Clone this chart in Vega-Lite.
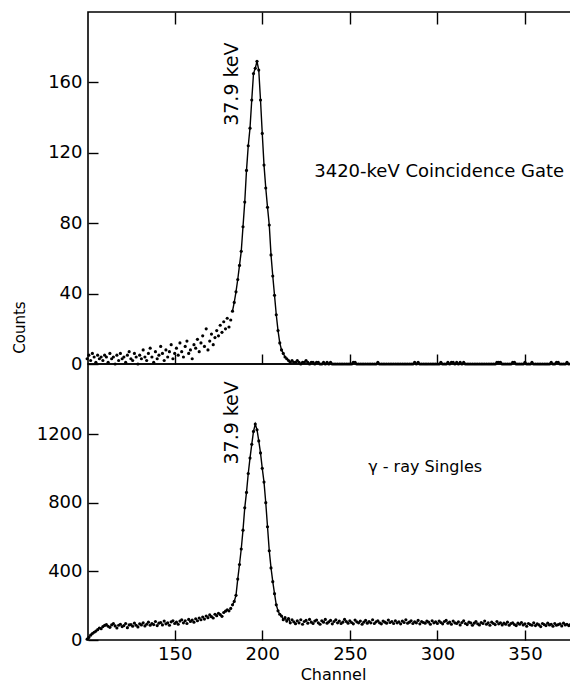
{
"$schema":"https://vega.github.io/schema/vega-lite/v6.json",
"padding":{"left":11,"top":10,"right":0,"bottom":0},
"background":"white",
"spacing":0,
"bounds":"flush",
"config":{
 "font":"DejaVu Sans",
 "view":{"stroke":"black","strokeWidth":1.6},
 "axis":{"domain":false,"grid":false,"tickColor":"black","tickWidth":1.4,"labelColor":"black","labelFont":"DejaVu Sans","labelFontSize":18,"titleColor":"black","titleFont":"DejaVu Sans","titleFontWeight":"normal"}
},
"datasets":{
"coinc":[{"c":100,"n":3},{"c":101,"n":5},{"c":102,"n":2},{"c":103,"n":6},{"c":104,"n":4},{"c":105,"n":1},{"c":106,"n":5},{"c":107,"n":3},{"c":108,"n":4},{"c":109,"n":2},{"c":110,"n":5},{"c":111,"n":4},{"c":112,"n":1},{"c":113,"n":6},{"c":114,"n":3},{"c":115,"n":4},{"c":116,"n":0},{"c":117,"n":5},{"c":118,"n":2},{"c":119,"n":6},{"c":120,"n":3},{"c":121,"n":4},{"c":122,"n":1},{"c":123,"n":5},{"c":124,"n":7},{"c":125,"n":3},{"c":126,"n":2},{"c":127,"n":6},{"c":128,"n":4},{"c":129,"n":0},{"c":130,"n":5},{"c":131,"n":3},{"c":132,"n":8},{"c":133,"n":4},{"c":134,"n":2},{"c":135,"n":6},{"c":136,"n":9},{"c":137,"n":4},{"c":138,"n":1},{"c":139,"n":7},{"c":140,"n":3},{"c":141,"n":5},{"c":142,"n":10},{"c":143,"n":6},{"c":144,"n":2},{"c":145,"n":8},{"c":146,"n":4},{"c":147,"n":7},{"c":148,"n":11},{"c":149,"n":3},{"c":150,"n":6},{"c":151,"n":9},{"c":152,"n":5},{"c":153,"n":12},{"c":154,"n":7},{"c":155,"n":4},{"c":156,"n":10},{"c":157,"n":13},{"c":158,"n":6},{"c":159,"n":8},{"c":160,"n":3},{"c":161,"n":11},{"c":162,"n":9},{"c":163,"n":14},{"c":164,"n":7},{"c":165,"n":12},{"c":166,"n":16},{"c":167,"n":10},{"c":168,"n":20},{"c":169,"n":8},{"c":170,"n":13},{"c":171,"n":17},{"c":172,"n":11},{"c":173,"n":15},{"c":174,"n":19},{"c":175,"n":16},{"c":176,"n":22},{"c":177,"n":18},{"c":178,"n":24},{"c":179,"n":20},{"c":180,"n":26},{"c":181,"n":21},{"c":182,"n":25},{"c":183,"n":30},{"c":184,"n":35},{"c":185,"n":41},{"c":186,"n":48},{"c":187,"n":56},{"c":188,"n":64},{"c":189,"n":78},{"c":190,"n":92},{"c":191,"n":110},{"c":192,"n":124},{"c":193,"n":134},{"c":194,"n":150},{"c":195,"n":165},{"c":196,"n":168},{"c":197,"n":172},{"c":198,"n":167},{"c":199,"n":150},{"c":200,"n":131},{"c":201,"n":113},{"c":202,"n":100},{"c":203,"n":89},{"c":204,"n":79},{"c":205,"n":62},{"c":206,"n":50},{"c":207,"n":39},{"c":208,"n":28},{"c":209,"n":19},{"c":210,"n":12},{"c":211,"n":8},{"c":212,"n":6},{"c":213,"n":4},{"c":214,"n":3},{"c":215,"n":2},{"c":216,"n":1},{"c":217,"n":2},{"c":218,"n":1},{"c":219,"n":1},{"c":220,"n":2},{"c":221,"n":1},{"c":222,"n":0},{"c":223,"n":1},{"c":224,"n":1},{"c":225,"n":2},{"c":226,"n":1},{"c":227,"n":0},{"c":228,"n":1},{"c":229,"n":1},{"c":230,"n":0},{"c":231,"n":1},{"c":232,"n":1},{"c":233,"n":0},{"c":234,"n":0},{"c":235,"n":1},{"c":236,"n":0},{"c":237,"n":1},{"c":238,"n":0},{"c":239,"n":1},{"c":240,"n":0},{"c":241,"n":0},{"c":242,"n":0},{"c":243,"n":0},{"c":244,"n":0},{"c":245,"n":0},{"c":246,"n":0},{"c":247,"n":0},{"c":248,"n":0},{"c":249,"n":0},{"c":250,"n":0},{"c":251,"n":0},{"c":252,"n":1},{"c":253,"n":1},{"c":254,"n":0},{"c":255,"n":0},{"c":256,"n":0},{"c":257,"n":0},{"c":258,"n":0},{"c":259,"n":0},{"c":260,"n":0},{"c":261,"n":0},{"c":262,"n":0},{"c":263,"n":0},{"c":264,"n":0},{"c":265,"n":0},{"c":266,"n":1},{"c":267,"n":0},{"c":268,"n":0},{"c":269,"n":0},{"c":270,"n":0},{"c":271,"n":0},{"c":272,"n":0},{"c":273,"n":0},{"c":274,"n":0},{"c":275,"n":0},{"c":276,"n":0},{"c":277,"n":0},{"c":278,"n":0},{"c":279,"n":0},{"c":280,"n":0},{"c":281,"n":0},{"c":282,"n":0},{"c":283,"n":0},{"c":284,"n":0},{"c":285,"n":0},{"c":286,"n":0},{"c":287,"n":1},{"c":288,"n":0},{"c":289,"n":1},{"c":290,"n":0},{"c":291,"n":0},{"c":292,"n":0},{"c":293,"n":0},{"c":294,"n":0},{"c":295,"n":0},{"c":296,"n":0},{"c":297,"n":0},{"c":298,"n":0},{"c":299,"n":0},{"c":300,"n":0},{"c":301,"n":0},{"c":302,"n":1},{"c":303,"n":0},{"c":304,"n":0},{"c":305,"n":0},{"c":306,"n":1},{"c":307,"n":0},{"c":308,"n":1},{"c":309,"n":1},{"c":310,"n":0},{"c":311,"n":1},{"c":312,"n":0},{"c":313,"n":1},{"c":314,"n":0},{"c":315,"n":1},{"c":316,"n":0},{"c":317,"n":0},{"c":318,"n":0},{"c":319,"n":0},{"c":320,"n":0},{"c":321,"n":0},{"c":322,"n":0},{"c":323,"n":0},{"c":324,"n":0},{"c":325,"n":0},{"c":326,"n":0},{"c":327,"n":0},{"c":328,"n":0},{"c":329,"n":0},{"c":330,"n":0},{"c":331,"n":0},{"c":332,"n":0},{"c":333,"n":0},{"c":334,"n":1},{"c":335,"n":1},{"c":336,"n":1},{"c":337,"n":0},{"c":338,"n":0},{"c":339,"n":0},{"c":340,"n":0},{"c":341,"n":0},{"c":342,"n":0},{"c":343,"n":1},{"c":344,"n":1},{"c":345,"n":0},{"c":346,"n":0},{"c":347,"n":0},{"c":348,"n":0},{"c":349,"n":0},{"c":350,"n":1},{"c":351,"n":0},{"c":352,"n":0},{"c":353,"n":0},{"c":354,"n":1},{"c":355,"n":0},{"c":356,"n":0},{"c":357,"n":0},{"c":358,"n":0},{"c":359,"n":0},{"c":360,"n":0},{"c":361,"n":0},{"c":362,"n":0},{"c":363,"n":0},{"c":364,"n":0},{"c":365,"n":1},{"c":366,"n":0},{"c":367,"n":0},{"c":368,"n":1},{"c":369,"n":1},{"c":370,"n":0},{"c":371,"n":0},{"c":372,"n":0},{"c":373,"n":0},{"c":374,"n":1},{"c":375,"n":0},{"c":376,"n":0}],
"singles":[{"c":100,"n":5},{"c":101,"n":15},{"c":102,"n":28},{"c":103,"n":38},{"c":104,"n":45},{"c":105,"n":52},{"c":106,"n":60},{"c":107,"n":70},{"c":108,"n":66},{"c":109,"n":78},{"c":110,"n":85},{"c":111,"n":90},{"c":112,"n":80},{"c":113,"n":74},{"c":114,"n":88},{"c":115,"n":95},{"c":116,"n":82},{"c":117,"n":70},{"c":118,"n":86},{"c":119,"n":92},{"c":120,"n":78},{"c":121,"n":84},{"c":122,"n":96},{"c":123,"n":72},{"c":124,"n":88},{"c":125,"n":90},{"c":126,"n":80},{"c":127,"n":98},{"c":128,"n":86},{"c":129,"n":76},{"c":130,"n":94},{"c":131,"n":88},{"c":132,"n":100},{"c":133,"n":82},{"c":134,"n":92},{"c":135,"n":104},{"c":136,"n":86},{"c":137,"n":96},{"c":138,"n":90},{"c":139,"n":108},{"c":140,"n":84},{"c":141,"n":98},{"c":142,"n":102},{"c":143,"n":88},{"c":144,"n":110},{"c":145,"n":94},{"c":146,"n":100},{"c":147,"n":86},{"c":148,"n":106},{"c":149,"n":112},{"c":150,"n":96},{"c":151,"n":104},{"c":152,"n":92},{"c":153,"n":110},{"c":154,"n":118},{"c":155,"n":100},{"c":156,"n":112},{"c":157,"n":96},{"c":158,"n":120},{"c":159,"n":108},{"c":160,"n":116},{"c":161,"n":104},{"c":162,"n":124},{"c":163,"n":112},{"c":164,"n":128},{"c":165,"n":118},{"c":166,"n":134},{"c":167,"n":122},{"c":168,"n":140},{"c":169,"n":130},{"c":170,"n":146},{"c":171,"n":136},{"c":172,"n":128},{"c":173,"n":150},{"c":174,"n":142},{"c":175,"n":156},{"c":176,"n":148},{"c":177,"n":138},{"c":178,"n":160},{"c":179,"n":168},{"c":180,"n":176},{"c":181,"n":170},{"c":182,"n":184},{"c":183,"n":205},{"c":184,"n":225},{"c":185,"n":260},{"c":186,"n":355},{"c":187,"n":440},{"c":188,"n":530},{"c":189,"n":640},{"c":190,"n":770},{"c":191,"n":860},{"c":192,"n":970},{"c":193,"n":1060},{"c":194,"n":1140},{"c":195,"n":1215},{"c":196,"n":1258},{"c":197,"n":1225},{"c":198,"n":1160},{"c":199,"n":1090},{"c":200,"n":1000},{"c":201,"n":920},{"c":202,"n":800},{"c":203,"n":660},{"c":204,"n":520},{"c":205,"n":420},{"c":206,"n":340},{"c":207,"n":270},{"c":208,"n":205},{"c":209,"n":170},{"c":210,"n":150},{"c":211,"n":140},{"c":212,"n":118},{"c":213,"n":130},{"c":214,"n":110},{"c":215,"n":125},{"c":216,"n":100},{"c":217,"n":118},{"c":218,"n":106},{"c":219,"n":95},{"c":220,"n":112},{"c":221,"n":100},{"c":222,"n":118},{"c":223,"n":92},{"c":224,"n":108},{"c":225,"n":114},{"c":226,"n":98},{"c":227,"n":120},{"c":228,"n":104},{"c":229,"n":96},{"c":230,"n":110},{"c":231,"n":116},{"c":232,"n":100},{"c":233,"n":92},{"c":234,"n":112},{"c":235,"n":104},{"c":236,"n":120},{"c":237,"n":98},{"c":238,"n":106},{"c":239,"n":114},{"c":240,"n":94},{"c":241,"n":108},{"c":242,"n":118},{"c":243,"n":100},{"c":244,"n":110},{"c":245,"n":96},{"c":246,"n":104},{"c":247,"n":120},{"c":248,"n":108},{"c":249,"n":98},{"c":250,"n":112},{"c":251,"n":102},{"c":252,"n":94},{"c":253,"n":116},{"c":254,"n":106},{"c":255,"n":100},{"c":256,"n":110},{"c":257,"n":92},{"c":258,"n":104},{"c":259,"n":114},{"c":260,"n":98},{"c":261,"n":108},{"c":262,"n":100},{"c":263,"n":118},{"c":264,"n":96},{"c":265,"n":106},{"c":266,"n":112},{"c":267,"n":100},{"c":268,"n":94},{"c":269,"n":110},{"c":270,"n":104},{"c":271,"n":98},{"c":272,"n":116},{"c":273,"n":102},{"c":274,"n":108},{"c":275,"n":96},{"c":276,"n":112},{"c":277,"n":100},{"c":278,"n":106},{"c":279,"n":94},{"c":280,"n":110},{"c":281,"n":102},{"c":282,"n":118},{"c":283,"n":98},{"c":284,"n":104},{"c":285,"n":112},{"c":286,"n":96},{"c":287,"n":106},{"c":288,"n":100},{"c":289,"n":114},{"c":290,"n":94},{"c":291,"n":108},{"c":292,"n":102},{"c":293,"n":98},{"c":294,"n":110},{"c":295,"n":104},{"c":296,"n":92},{"c":297,"n":112},{"c":298,"n":100},{"c":299,"n":106},{"c":300,"n":96},{"c":301,"n":110},{"c":302,"n":102},{"c":303,"n":94},{"c":304,"n":108},{"c":305,"n":114},{"c":306,"n":98},{"c":307,"n":104},{"c":308,"n":92},{"c":309,"n":110},{"c":310,"n":100},{"c":311,"n":96},{"c":312,"n":106},{"c":313,"n":88},{"c":314,"n":102},{"c":315,"n":112},{"c":316,"n":96},{"c":317,"n":90},{"c":318,"n":104},{"c":319,"n":100},{"c":320,"n":86},{"c":321,"n":98},{"c":322,"n":108},{"c":323,"n":94},{"c":324,"n":88},{"c":325,"n":102},{"c":326,"n":96},{"c":327,"n":110},{"c":328,"n":92},{"c":329,"n":100},{"c":330,"n":86},{"c":331,"n":104},{"c":332,"n":96},{"c":333,"n":90},{"c":334,"n":108},{"c":335,"n":94},{"c":336,"n":100},{"c":337,"n":88},{"c":338,"n":98},{"c":339,"n":92},{"c":340,"n":104},{"c":341,"n":86},{"c":342,"n":96},{"c":343,"n":100},{"c":344,"n":90},{"c":345,"n":84},{"c":346,"n":98},{"c":347,"n":92},{"c":348,"n":102},{"c":349,"n":88},{"c":350,"n":94},{"c":351,"n":80},{"c":352,"n":96},{"c":353,"n":90},{"c":354,"n":86},{"c":355,"n":100},{"c":356,"n":84},{"c":357,"n":94},{"c":358,"n":88},{"c":359,"n":78},{"c":360,"n":96},{"c":361,"n":90},{"c":362,"n":84},{"c":363,"n":98},{"c":364,"n":88},{"c":365,"n":92},{"c":366,"n":80},{"c":367,"n":96},{"c":368,"n":86},{"c":369,"n":90},{"c":370,"n":94},{"c":371,"n":82},{"c":372,"n":98},{"c":373,"n":88},{"c":374,"n":92},{"c":375,"n":84},{"c":376,"n":90}]
},
"vconcat":[
{
 "width":486,"height":352,
 "resolve":{"axis":{"x":"independent"}},
 "layer":[
  {"layer":[
    {"data":{"name":"coinc"},
     "transform":[{"filter":"datum.c >= 183 && datum.c <= 216"}],
     "mark":{"type":"line","color":"black","strokeWidth":1.4},
     "encoding":{
      "x":{"field":"c","type":"quantitative","scale":{"domain":[100.5,378],"nice":false,"zero":false},
           "axis":{"orient":"bottom","labels":false,"title":null,"values":[150,200,250,300,350],"tickSize":-10}},
      "y":{"field":"n","type":"quantitative","scale":{"domain":[0,200],"nice":false},
           "axis":{"values":[0,40,80,120,160],"tickSize":-10,"labelPadding":16,"title":"Counts","titleFontSize":15,"titleAngle":270,"titleX":-64,"titleY":315,"titleBaseline":"alphabetic","titleAlign":"center"}}
     }},
    {"data":{"name":"coinc"},
     "mark":{"type":"circle","color":"black","size":10,"opacity":1},
     "encoding":{
      "x":{"field":"c","type":"quantitative"},
      "y":{"field":"n","type":"quantitative"}
     }},
    {"data":{"values":[{"label":"37.9 keV"}]},
     "mark":{"type":"text","angle":270,"fontSize":19,"align":"center","baseline":"alphabetic","color":"black","font":"DejaVu Sans"},
     "encoding":{"x":{"datum":186,"type":"quantitative"},"y":{"datum":159,"type":"quantitative"},"text":{"field":"label"}}},
    {"data":{"values":[{"label":"3420-keV Coincidence Gate"}]},
     "mark":{"type":"text","fontSize":18,"align":"center","baseline":"middle","color":"black","font":"DejaVu Sans"},
     "encoding":{"x":{"datum":301,"type":"quantitative"},"y":{"datum":109,"type":"quantitative"},"text":{"field":"label"}}}
  ]},
  {"data":{"name":"coinc"},
   "mark":{"type":"circle","opacity":0},
   "encoding":{
    "x":{"field":"c","type":"quantitative","axis":{"orient":"top","labels":false,"title":null,"values":[150,200,250,300,350],"tickSize":-12}},
    "y":{"field":"n","type":"quantitative"}
   }}
 ]
},
{
 "width":486,"height":276,
 "layer":[
  {"data":{"name":"singles"},
   "transform":[{"filter":"datum.c >= 183 && datum.c <= 216"}],
   "mark":{"type":"line","color":"black","strokeWidth":1.4},
   "encoding":{
    "x":{"field":"c","type":"quantitative","scale":{"domain":[100.5,378],"nice":false,"zero":false},
         "axis":{"orient":"bottom","values":[150,200,250,300,350],"tickSize":-10,"labelPadding":15,"title":"Channel","titleFontSize":16,"titlePadding":3,"titleX":245}},
    "y":{"field":"n","type":"quantitative","scale":{"domain":[0,1608],"nice":false},
         "axis":{"values":[0,400,800,1200],"format":"d","tickSize":-10,"labelPadding":16,"title":null}}
   }},
  {"data":{"name":"singles"},
   "mark":{"type":"circle","color":"black","size":10,"opacity":1},
   "encoding":{
    "x":{"field":"c","type":"quantitative"},
    "y":{"field":"n","type":"quantitative"}
   }},
  {"data":{"values":[{"label":"37.9 keV"}]},
   "mark":{"type":"text","angle":270,"fontSize":19,"align":"center","baseline":"alphabetic","color":"black","font":"DejaVu Sans"},
   "encoding":{"x":{"datum":186,"type":"quantitative"},"y":{"datum":1265,"type":"quantitative"},"text":{"field":"label"}}},
  {"data":{"values":[{"label":"γ - ray Singles"}]},
   "mark":{"type":"text","fontSize":16,"align":"center","baseline":"middle","color":"black","font":"DejaVu Sans"},
   "encoding":{"x":{"datum":293,"type":"quantitative"},"y":{"datum":1008,"type":"quantitative"},"text":{"field":"label"}}}
 ]
}
]
}
